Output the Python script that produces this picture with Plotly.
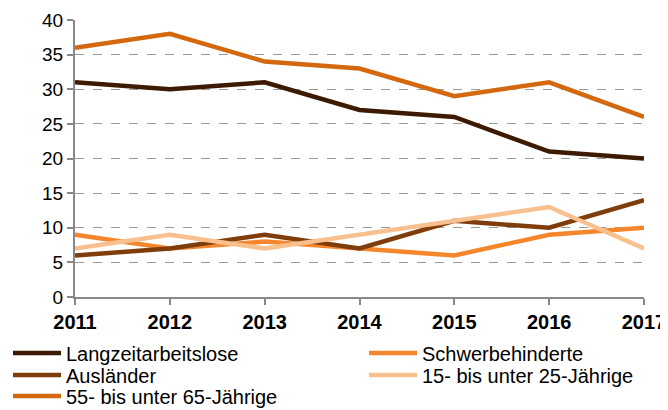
import plotly.graph_objects as go

years = [2011, 2012, 2013, 2014, 2015, 2016, 2017]
langzeit = [31, 30, 31, 27, 26, 21, 20]
schwerbehinderte = [9, 7, 8, 7, 6, 9, 10]
auslaender = [6, 7, 9, 7, 11, 10, 14]
jung = [7, 9, 7, 9, 11, 13, 7]
alt = [36, 38, 34, 33, 29, 31, 26]

names = ["Langzeitarbeitslose", "Schwerbehinderte", "Ausländer",
         "15- bis unter 25-Jährige", "55- bis unter 65-Jährige"]
values = [langzeit, schwerbehinderte, auslaender, jung, alt]
colors = ["#3d1a02", "#f5862c", "#7e3d0b", "#f9c08f", "#d4680f"]

FONT = "Liberation Sans, Arial, sans-serif"
W, H = 660, 402  # page body has an 8px margin

# legend slot per trace: (column x in px, row centre y in px from top)
slots = [(0, 345), (356, 345), (0, 367), (356, 367), (0, 388)]

fig = go.Figure()
layout_legends = {}
for i, (name, vals, col) in enumerate(zip(names, values, colors)):
    key = "legend" if i == 0 else f"legend{i + 1}"
    fig.add_trace(go.Scatter(x=years, y=vals, name=name, mode="lines",
                             line=dict(color=col, width=4.5), legend=key))
    sx, sy = slots[i]
    layout_legends[key] = dict(
        orientation="v", xref="container", yref="container",
        x=sx / W, y=(H - sy) / H, xanchor="left", yanchor="middle",
        font=dict(size=20, family=FONT, color="#000"),
        bgcolor="rgba(0,0,0,0)", itemwidth=48, borderwidth=0,
    )

fig.update_layout(
    width=W, height=H,
    margin=dict(l=67, r=24, t=12, b=113, autoexpand=False),
    plot_bgcolor="white", paper_bgcolor="white",
    font=dict(family=FONT, size=19, color="#000"),
    xaxis=dict(
        range=[2011, 2017], tickvals=years, ticktext=[str(y) for y in years],
        showgrid=False, showline=True, linecolor="#888", linewidth=2,
        ticks="outside", ticklen=6, tickcolor="#888", tickwidth=1.5,
        tickfont=dict(size=20, family=FONT, weight="bold", color="#000"),
        zeroline=False,
    ),
    yaxis=dict(
        range=[0, 40], dtick=5, showgrid=True, gridcolor="#9a9a9a", griddash="dash",
        gridwidth=1.3, showline=True, linecolor="#888", linewidth=2,
        ticks="outside", ticklen=6, tickcolor="#888", tickwidth=1.5, zeroline=False,
        tickfont=dict(size=19, color="#000"),
    ),
    showlegend=True,
    **layout_legends,
)

fig.write_html("out.html")
